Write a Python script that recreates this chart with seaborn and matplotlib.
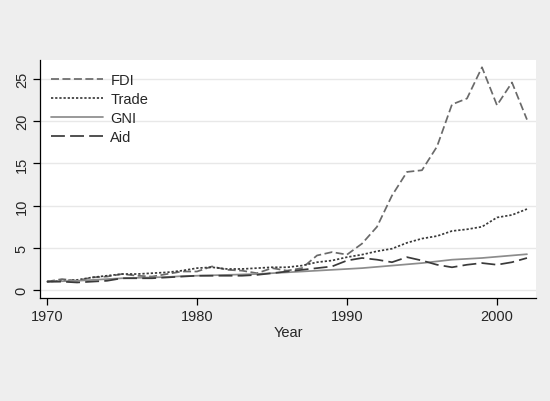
import numpy as np
import pandas as pd
import matplotlib
matplotlib.use('Agg')
import matplotlib.pyplot as plt
import seaborn as sns

years = list(range(1970, 2003))

fdi = [1.0, 1.3, 1.1, 1.5, 1.6, 1.9, 1.7, 1.6, 1.9, 2.2, 2.2, 2.8, 2.4, 2.3, 2.0, 2.6, 2.3, 2.6,
       4.1, 4.5, 4.2, 5.5, 7.5, 11.2, 14.0, 14.2, 17.0, 22.0, 22.7, 26.4, 21.9, 24.6, 20.2]
trade = [1.0, 1.1, 1.2, 1.5, 1.7, 1.9, 1.9, 2.0, 2.1, 2.3, 2.6, 2.7, 2.5, 2.5, 2.6, 2.7, 2.7, 2.9,
         3.3, 3.5, 3.9, 4.2, 4.6, 4.9, 5.6, 6.1, 6.4, 7.0, 7.2, 7.5, 8.6, 8.9, 9.6]
gni = [1.0, 1.05, 1.1, 1.2, 1.3, 1.4, 1.45, 1.5, 1.55, 1.65, 1.7, 1.75, 1.8, 1.85, 1.9, 2.0, 2.1, 2.2,
       2.3, 2.4, 2.5, 2.6, 2.75, 2.9, 3.05, 3.2, 3.4, 3.6, 3.7, 3.8, 3.95, 4.1, 4.25]
aid = [1.0, 1.0, 0.9, 1.0, 1.1, 1.4, 1.4, 1.4, 1.5, 1.6, 1.7, 1.7, 1.7, 1.7, 1.8, 2.0, 2.2, 2.4,
       2.6, 2.8, 3.5, 3.8, 3.6, 3.3, 3.9, 3.5, 3.0, 2.7, 3.0, 3.2, 3.0, 3.3, 3.8]

series = ['FDI', 'Trade', 'GNI', 'Aid']

sns.set_theme(style='white')
plt.rcParams['font.family'] = ['Liberation Sans', 'DejaVu Sans']

df = pd.DataFrame({'Year': years, 'FDI': fdi, 'Trade': trade, 'GNI': gni, 'Aid': aid})
long = df.melt(id_vars='Year', var_name='series', value_name='value')

fig = plt.figure(figsize=(5.5, 4.02), dpi=100, facecolor='#eeeeee')
ax = fig.add_axes([0.0727, 0.256, 0.9018, 0.592])
ax.set_facecolor('white')

palette = {'FDI': '#6a6a6a', 'Trade': '#3a3a3a', 'GNI': '#8c8c8c', 'Aid': '#3a3a3a'}
dashes = {'FDI': (4.6, 2.0), 'Trade': (1.3, 1.1), 'GNI': '', 'Aid': (8.0, 3.0)}

sns.lineplot(data=long, x='Year', y='value', hue='series', style='series',
             hue_order=series, style_order=series, palette=palette, dashes=dashes,
             linewidth=1.25, ax=ax)

ax.set_xlim(1969.53, 2002.6)
ax.set_ylim(-0.95, 27.25)
ax.set_xticks([1970, 1980, 1990, 2000])
ax.set_yticks([0, 5, 10, 15, 20, 25])
ax.yaxis.grid(True, color='#e8e8e8', linewidth=1)
ax.xaxis.grid(False)

for side in ['top', 'right']:
    ax.spines[side].set_visible(False)
for side in ['left', 'bottom']:
    ax.spines[side].set_color('black')
    ax.spines[side].set_linewidth(0.9)

ax.tick_params(axis='both', which='major', direction='out', length=5, width=0.9,
               color='black', labelsize=10.5, left=True, bottom=True, pad=3)
plt.setp(ax.get_yticklabels(), rotation=90, va='center')

ax.set_xlabel('Year', fontsize=10.5, labelpad=1)
ax.set_ylabel('')

handles, labels = ax.get_legend_handles_labels()
ax.legend(handles, labels, loc='upper left', frameon=False, fontsize=10.5,
          handlelength=3.6, handletextpad=0.5, labelspacing=0.33,
          bbox_to_anchor=(-0.005, 1.0))

fig.savefig('out.png', dpi=100, facecolor=fig.get_facecolor())
